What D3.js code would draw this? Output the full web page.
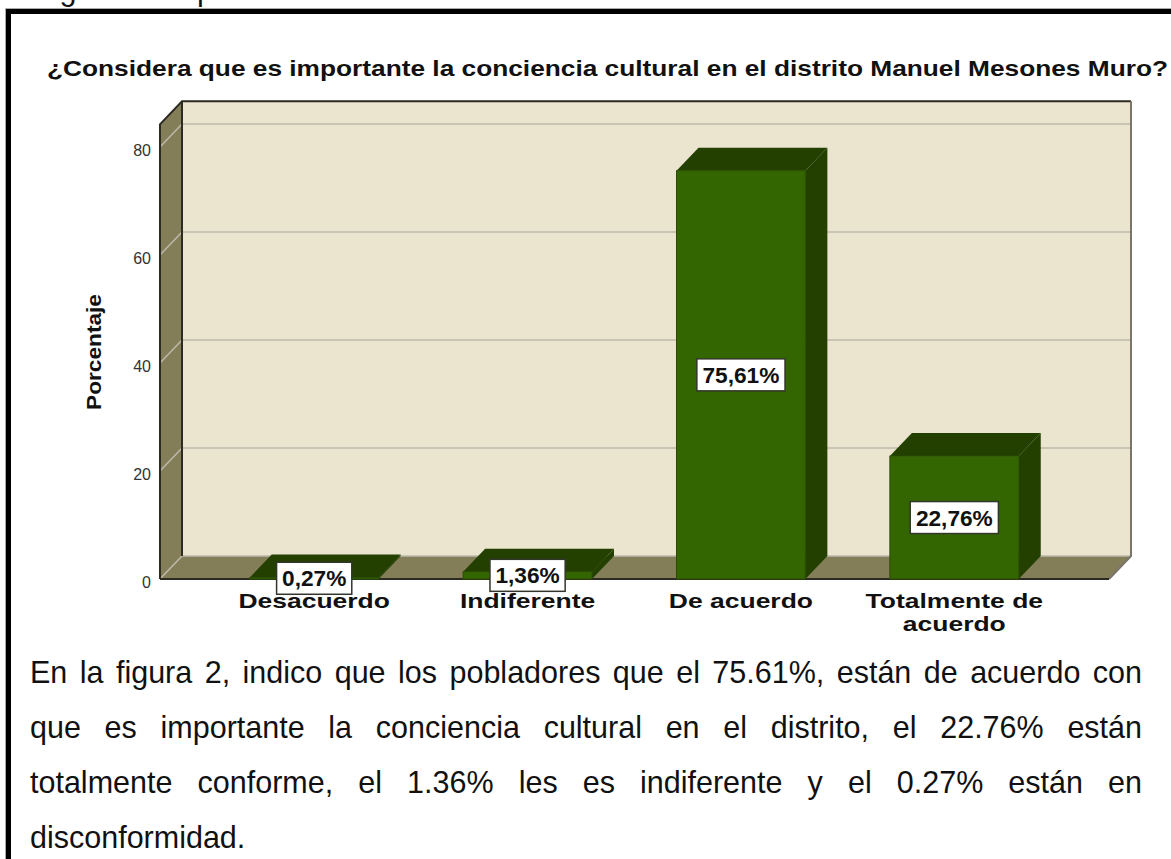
<!DOCTYPE html>
<html>
<head>
    <title>conciencia cultural</title>
    <meta charset="utf-8">
    <style type="text/css">
        html, body { margin: 0; padding: 0; background: #fff; overflow: hidden; }
        svg { display: block; }
        text { font-family: "Liberation Sans", Arial, sans-serif; }
        .axis path { display: none; }
        .axis line { display: none; }
        .axis text { font-size: 16px; fill: #333; font-family: "Liberation Sans", Arial, sans-serif; }
        .title, .cat, .ylabel, .val { font-weight: bold; fill: #111; }
    </style>
</head>
<body>
<script src="https://cdn.jsdelivr.net/npm/d3@7"></script>
<script type="text/javascript">
    /*=========DATA=========*/
    var categories = ['Desacuerdo', 'Indiferente', 'De acuerdo', 'Totalmente de acuerdo'];
    var values = [0.27, 1.36, 75.61, 22.76];
    var valueLabels = ['0,27%', '1,36%', '75,61%', '22,76%'];
    var yTicks = [0, 20, 40, 60, 80];
    var chartTitle = '¿Considera que es importante la conciencia cultural en el distrito Manuel Mesones Muro?';
    var yTitle = 'Porcentaje';
    var headLine = 'Figura 2 Importancia de la conciencia cultural en el distrito Manuel Mesones';
    var bodyLines = [
        'En la figura 2, indico que los pobladores que el 75.61%, están de acuerdo con',
        'que es importante la conciencia cultural en el distrito, el 22.76% están',
        'totalmente conforme, el 1.36% les es indiferente y el 0.27% están en',
        'disconformidad.'
    ];

    /*=====SIZE SVG======*/
    var svgWidth = 1171;
    var svgHeight = 859;

    // plot box, front plane
    var plotLeft = 160, plotRight = 1109, plotBottom = 579, plotMax = 84.2;
    var depthX = 22, depthY = 23;

    var colors = {
        back: '#ebe5cf', wall: '#847e58', grid: '#bcb9ac', edge: '#2b2b22',
        front: '#336600', dark: '#234000'
    };

    // 比例尺
    var yScale = d3.scaleLinear().domain([0, 80]).range([plotBottom, 147]);
    var xScale = d3.scaleBand().domain(categories).range([207.5, 1061])
        .paddingInner(0.396).paddingOuter(0.198);
    var plotTop = yScale(plotMax);

    var svg = d3.select('body').append('svg').attr('width', svgWidth).attr('height', svgHeight);
    var line = d3.line();
    function poly(g, pts, fill) {
        return g.append('path').attr('d', line(pts) + 'Z').attr('fill', fill);
    }
    // stretch text sideways, the source chart has wide lettering
    function stretch(sel, k) {
        sel.each(function () {
            var w = this.getComputedTextLength();
            d3.select(this).attr('textLength', w * k).attr('lengthAdjust', 'spacingAndGlyphs');
        });
        return sel;
    }
    // justify one line of text to a given width
    function justify(sel, width) {
        sel.each(function () {
            var t = d3.select(this);
            var gaps = t.text().split(' ').length - 1;
            t.attr('word-spacing', (width - this.getComputedTextLength()) / gaps);
        });
        return sel;
    }

    /*=========page text and frame============*/
    svg.append('text').attr('x', 34).attr('y', 0).attr('font-size', 30.5).attr('fill', '#111')
        .text(headLine).call(justify, 1075);
    svg.append('path').attr('d', 'M5.5,859V8.5H1171').attr('fill', 'none').attr('stroke', '#aaa').attr('stroke-width', 1);
    svg.append('path').attr('d', 'M8.5,859V11.5H1171').attr('fill', 'none').attr('stroke', '#000').attr('stroke-width', 5);

    svg.append('text').attr('class', 'title').attr('x', 47).attr('y', 76).attr('font-size', 22)
        .text(chartTitle).call(function (s) {
            s.attr('textLength', 1121).attr('lengthAdjust', 'spacingAndGlyphs');
        });

    /*=========box============*/
    var box = svg.append('g');
    poly(box, [[plotLeft + depthX, plotTop - depthY], [plotRight + depthX, plotTop - depthY],
        [plotRight + depthX, plotBottom - depthY], [plotLeft + depthX, plotBottom - depthY]], colors.back);
    poly(box, [[plotLeft, plotTop], [plotLeft + depthX, plotTop - depthY],
        [plotLeft + depthX, plotBottom - depthY], [plotLeft, plotBottom]], colors.wall);
    poly(box, [[plotLeft, plotBottom], [plotLeft + depthX, plotBottom - depthY],
        [plotRight + depthX, plotBottom - depthY], [plotRight, plotBottom]], colors.wall);

    // gridlines run up the wall and across the back
    box.selectAll('.grid').data(yTicks).enter().append('path').attr('class', 'grid')
        .attr('d', function (d) {
            var y = yScale(d);
            return line([[plotLeft, y], [plotLeft + depthX, y - depthY], [plotRight + depthX, y - depthY]]);
        })
        .attr('fill', 'none').attr('stroke', colors.grid).attr('stroke-width', 1.5);

    // edges
    box.append('path').attr('fill', 'none').attr('stroke', colors.edge).attr('stroke-width', 2)
        .attr('d', line([[plotLeft, plotBottom], [plotLeft, plotTop], [plotLeft + depthX, plotTop - depthY], [plotRight + depthX, plotTop - depthY]]));
    box.append('path').attr('fill', 'none').attr('stroke', colors.edge).attr('stroke-width', 2)
        .attr('d', line([[plotLeft + depthX, plotTop - depthY], [plotLeft + depthX, plotBottom - depthY]]));
    box.append('path').attr('fill', 'none').attr('stroke', '#77756c').attr('stroke-width', 2)
        .attr('d', line([[plotRight + depthX, plotTop - depthY], [plotRight + depthX, plotBottom - depthY], [plotRight, plotBottom]]));
    box.append('path').attr('fill', 'none').attr('stroke', colors.edge).attr('stroke-width', 2)
        .attr('d', line([[plotLeft, plotBottom], [plotRight, plotBottom]]));

    /*=========axis============*/
    var yAxis = d3.axisLeft(yScale).tickValues(yTicks).tickSize(0).tickPadding(0);
    svg.append('g').attr('class', 'axis').attr('transform', 'translate(151,3)').call(yAxis);

    svg.append('text').attr('class', 'ylabel').attr('transform', 'translate(101,352) rotate(-90)')
        .attr('text-anchor', 'middle').attr('font-size', 21).text(yTitle).call(stretch, 1.08);

    /*=========bars============*/
    var rows = categories.map(function (c, i) { return { cat: c, value: values[i], label: valueLabels[i] }; });
    var bw = xScale.bandwidth();
    var bars = svg.selectAll('.bar').data(rows).enter().append('g').attr('class', 'bar');
    bars.each(function (d) {
        var g = d3.select(this), x0 = xScale(d.cat), x1 = x0 + bw, y = yScale(d.value);
        poly(g, [[x0, y], [x0 + depthX, y - depthY], [x1 + depthX, y - depthY], [x1, y]], colors.dark);
        poly(g, [[x1, y], [x1 + depthX, y - depthY], [x1 + depthX, plotBottom - depthY], [x1, plotBottom]], colors.dark);
        g.append('rect').attr('x', x0).attr('y', y).attr('width', bw).attr('height', plotBottom - y)
            .attr('fill', colors.front).attr('stroke', '#2a4d05').attr('stroke-width', 1);
    });

    /*=========category labels============*/
    svg.selectAll('.cat').data(categories).enter().append('text').attr('class', 'cat')
        .attr('x', function (d) { return xScale(d) + bw / 2; })
        .attr('y', 608).attr('text-anchor', 'middle').attr('font-size', 21)
        .each(function (d) {
            var t = d3.select(this);
            var words = d === 'Totalmente de acuerdo' ? ['Totalmente de', 'acuerdo'] : [d];
            words.forEach(function (w, i) {
                t.append('tspan').attr('x', t.attr('x')).attr('dy', i ? 23 : 0).text(w)
                    .attr('textLength', function () { return this.getComputedTextLength() * 1.26; })
                    .attr('lengthAdjust', 'spacingAndGlyphs');
            });
        });

    /*=========value labels============*/
    var tags = svg.selectAll('.tag').data(rows).enter().append('g').attr('class', 'tag')
        .attr('transform', function (d) {
            return 'translate(' + (xScale(d.cat) + bw / 2) + ',' + yScale(d.value / 2) + ')';
        });
    var tagRect = tags.append('rect').attr('fill', '#fff').attr('stroke', '#33362c').attr('stroke-width', 1.5);
    var tagText = tags.append('text').attr('class', 'val').attr('text-anchor', 'middle')
        .attr('y', 8).attr('font-size', 22).text(function (d) { return d.label; }).call(stretch, 1.03);
    tagRect.each(function () {
        var w = this.parentNode.querySelector('text').getComputedTextLength() * 1.03 + 9;
        d3.select(this).attr('x', -w / 2).attr('y', -16).attr('width', w).attr('height', 32);
    });

    /*=========body text============*/
    var bodyY = d3.scalePoint().domain(d3.range(bodyLines.length)).range([683, 848]);
    svg.selectAll('.body').data(bodyLines).enter().append('text').attr('class', 'body')
        .attr('x', 30).attr('y', function (d, i) { return bodyY(i); })
        .attr('font-size', 30.5).attr('fill', '#111').text(function (d) { return d; })
        .each(function (d, i) {
            if (i < bodyLines.length - 1) d3.select(this).call(justify, 1112);
        });
</script>
</body>
</html>
